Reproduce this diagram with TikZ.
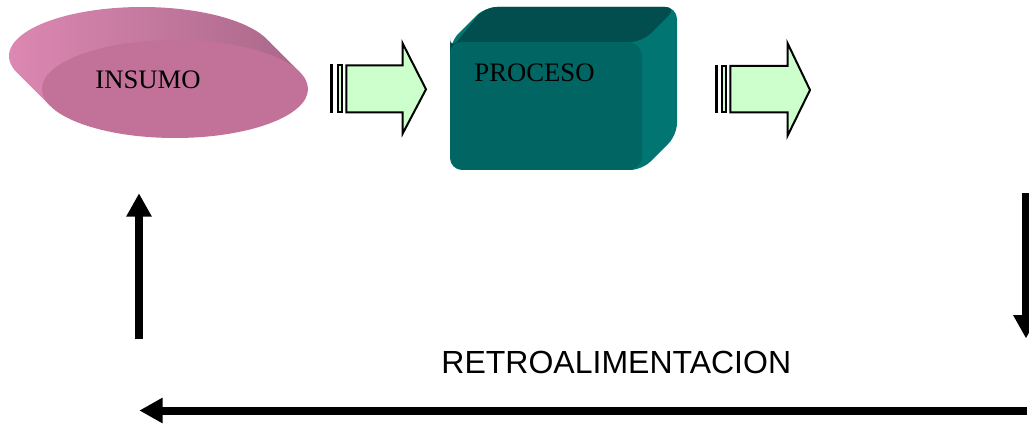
\documentclass[tikz,border=0pt]{standalone}
\usepackage{fontspec}
\setmainfont{Liberation Serif}
\newfontfamily\arialf{Liberation Sans}
\usetikzlibrary{arrows.meta}
\definecolor{greenfill}{HTML}{CCFFCC}
\definecolor{pinkfront}{HTML}{C27298}
\definecolor{pinklight}{HTML}{DC88B2}
\definecolor{pinkdark}{HTML}{9A5C7C}
\definecolor{pinkright}{HTML}{AA6889}
\definecolor{boxtop}{HTML}{024E4E}
\definecolor{boxfront}{HTML}{006563}
\definecolor{boxside}{HTML}{007571}
\tikzset{
  blockarrow/.style={draw=black, line width=1.5pt, fill=greenfill, line join=miter},
  bigarrow/.style={line width=6pt, -{Triangle[length=17.5pt,width=18pt]}},
  serifbig/.style={font=\fontsize{20}{24}\selectfont, inner sep=0pt},
  sansbig/.style={font=\arialf\fontsize{24}{28}\selectfont, inner sep=0pt}
}
\begin{document}
\begin{tikzpicture}[x=0.75pt,y=-0.75pt]
\useasboundingbox (0,0) rectangle (1029,424);

% INSUMO disc
\shade[left color=pinklight, middle color=pinkdark, right color=pinkright]
  (50.2,105.9) -- plot[domain=-200.2:-20.2, samples=80, smooth] ({142+133*cos(\x)}, {56+49*sin(\x)}) -- (299.8,72.1) -- cycle;
\fill[pinkfront] (175,89) ellipse [x radius=99.75pt, y radius=36.75pt];
\node[serifbig] (insumo) at (148,80) {INSUMO};

% arrow 1
\draw[blockarrow] (331,65.3) rectangle (332.3,112.3);
\draw[blockarrow] (337.7,65.3) rectangle (341.7,112.3);
\draw[blockarrow] (346.3,65.3) -- (402.7,65.3) -- (402.7,43.5) -- (426,89.3) -- (402.7,133.5) -- (402.7,112.3) -- (346.3,112.3) -- cycle;

% PROCESO box
\fill[boxside, rounded corners=9pt] (450,42) -- (485,7) -- (677,7) -- (677,135) -- (642,170) -- (450,170) -- cycle;
\fill[boxtop, rounded corners=9pt] (450,50) -- (485,7) -- (677,7) -- (642,42) -- (450,42) -- cycle;
\fill[boxfront, rounded corners=11pt] (450,42) rectangle (642,170);
\node[serifbig] (proceso) at (534.5,72.5) {PROCESO};

% arrow 2
\draw[blockarrow] (715.7,66) rectangle (716.7,112.3);
\draw[blockarrow] (721.7,66) rectangle (725.7,112.3);
\draw[blockarrow] (730.3,66) -- (787.7,66) -- (787.7,43.5) -- (810,90) -- (787.7,135.5) -- (787.7,112.3) -- (730.3,112.3) -- cycle;

% feedback
\coordinate (downS) at (1026,193);
\coordinate (downE) at (1026,338.5);
\coordinate (botS) at (1027,410.5);
\coordinate (botE) at (139.3,410.5);
\coordinate (upS) at (139,339.3);
\coordinate (upE) at (139,193.3);
\draw[bigarrow] (downS) -- (downE);
\draw[bigarrow] (botS) -- (botE);
\draw[bigarrow] (upS) -- (upE);
\node[sansbig] (retro) at (616.3,362) {RETROALIMENTACION};
\end{tikzpicture}
\end{document}
